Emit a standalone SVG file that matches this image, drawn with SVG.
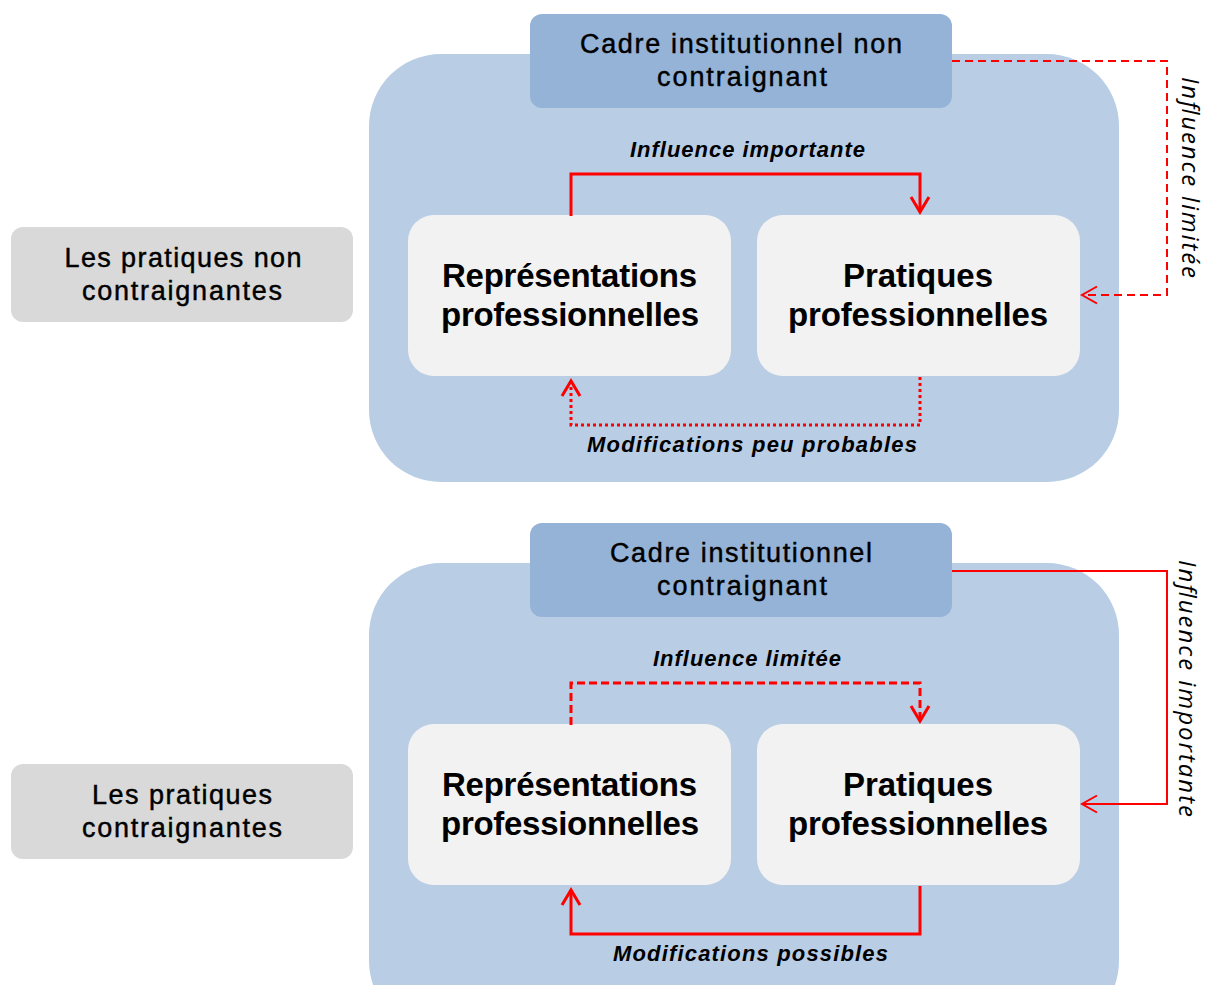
<svg xmlns="http://www.w3.org/2000/svg" width="1206" height="985" viewBox="0 0 1206 985">
<defs>
<style>
.cont{fill:#b9cde5}
.head{fill:#95b3d7}
.side{fill:#d9d9d9}
.inner{fill:#f2f2f2}
.t{font-family:"Liberation Sans",Arial,sans-serif;fill:#000;text-anchor:middle}
.h{font-size:27px;stroke:#000;stroke-width:0.45}
.b{font-size:33px;font-weight:bold}
.lab{font-size:22px;font-weight:bold;font-style:italic}
.vt{font-family:"Open Sans","Liberation Sans",sans-serif;font-size:24px;font-style:italic;fill:#000;text-anchor:middle}
.ar{fill:none;stroke:#ff0000}
</style>
<marker id="ah" viewBox="0 0 20 22" refX="17" refY="11" markerWidth="20" markerHeight="22" markerUnits="userSpaceOnUse" orient="auto">
<path d="M2,2 L17,11 L2,20" fill="none" stroke="#ff0000" stroke-width="3"/>
</marker>
<marker id="ah2" viewBox="0 0 18 20" refX="16" refY="10" markerWidth="18" markerHeight="20" markerUnits="userSpaceOnUse" orient="auto">
<path d="M1,1.5 L16,10 L1,18.5" fill="none" stroke="#ff0000" stroke-width="2"/>
</marker>
</defs>

<g id="top-container"><rect class="cont" x="369" y="54" width="750" height="428" rx="72"/></g>
<g id="top-header"><rect class="head" x="530" y="14" width="422" height="94" rx="12"/>
<text class="t h" x="741" y="53" textLength="322" lengthAdjust="spacing">Cadre institutionnel non</text>
<text class="t h" x="742" y="86" textLength="170" lengthAdjust="spacing">contraignant</text></g>
<g id="top-side"><rect class="side" x="11" y="227" width="342" height="95" rx="12"/>
<text class="t h" x="183" y="267" textLength="237" lengthAdjust="spacing">Les pratiques non</text>
<text class="t h" x="182" y="300" textLength="200" lengthAdjust="spacing">contraignantes</text></g>
<g id="top-rep"><rect class="inner" x="408" y="215" width="323" height="161" rx="26"/>
<text class="t b" x="569.5" y="287" textLength="255" lengthAdjust="spacing">Représentations</text>
<text class="t b" x="570" y="326" textLength="258" lengthAdjust="spacing">professionnelles</text></g>
<g id="top-prat"><rect class="inner" x="757" y="215" width="323" height="161" rx="26"/>
<text class="t b" x="918" y="287" textLength="150" lengthAdjust="spacing">Pratiques</text>
<text class="t b" x="918" y="326" textLength="260" lengthAdjust="spacing">professionnelles</text></g>

<g id="bot-container"><rect class="cont" x="369" y="563" width="750" height="470" rx="72"/></g>
<g id="bot-header"><rect class="head" x="530" y="523" width="422" height="94" rx="12"/>
<text class="t h" x="741" y="562" textLength="262" lengthAdjust="spacing">Cadre institutionnel</text>
<text class="t h" x="742" y="595" textLength="170" lengthAdjust="spacing">contraignant</text></g>
<g id="bot-side"><rect class="side" x="11" y="764" width="342" height="95" rx="12"/>
<text class="t h" x="182" y="804" textLength="180" lengthAdjust="spacing">Les pratiques</text>
<text class="t h" x="182" y="837" textLength="200" lengthAdjust="spacing">contraignantes</text></g>
<g id="bot-rep"><rect class="inner" x="408" y="724" width="323" height="161" rx="26"/>
<text class="t b" x="569.5" y="796" textLength="255" lengthAdjust="spacing">Représentations</text>
<text class="t b" x="570" y="835" textLength="258" lengthAdjust="spacing">professionnelles</text></g>
<g id="bot-prat"><rect class="inner" x="757" y="724" width="323" height="161" rx="26"/>
<text class="t b" x="918" y="796" textLength="150" lengthAdjust="spacing">Pratiques</text>
<text class="t b" x="918" y="835" textLength="260" lengthAdjust="spacing">professionnelles</text></g>

<g id="connectors">
<path class="ar" d="M571,216 V174 H920 V212" stroke-width="3" marker-end="url(#ah)"/>
<path class="ar" d="M920,377 V425 H571 V381" stroke-width="3" stroke-dasharray="3 3" marker-end="url(#ah)"/>
<path class="ar" d="M952,61 H1167 V295 H1082" stroke-width="2" stroke-dasharray="8 5" marker-end="url(#ah2)"/>
<path class="ar" d="M571,725 V683 H920 V721" stroke-width="3" stroke-dasharray="8 4" marker-end="url(#ah)"/>
<path class="ar" d="M920,886 V934 H571 V890" stroke-width="3" marker-end="url(#ah)"/>
<path class="ar" d="M952,571 H1167 V804 H1082" stroke-width="2" marker-end="url(#ah2)"/>
</g>

<g id="labels">
<text class="t lab" x="747.5" y="157" textLength="235" lengthAdjust="spacing">Influence importante</text>
<text class="t lab" x="752" y="452" textLength="330" lengthAdjust="spacing">Modifications peu probables</text>
<text class="t lab" x="747" y="666" textLength="188" lengthAdjust="spacing">Influence limitée</text>
<text class="t lab" x="750.5" y="961" textLength="275" lengthAdjust="spacing">Modifications possibles</text>
<text class="vt" transform="translate(1182,177.5) rotate(90)" textLength="201" lengthAdjust="spacing">Influence limitée</text>
<text class="vt" transform="translate(1179,688.5) rotate(90)" textLength="257" lengthAdjust="spacing">Influence importante</text>
</g>
</svg>
